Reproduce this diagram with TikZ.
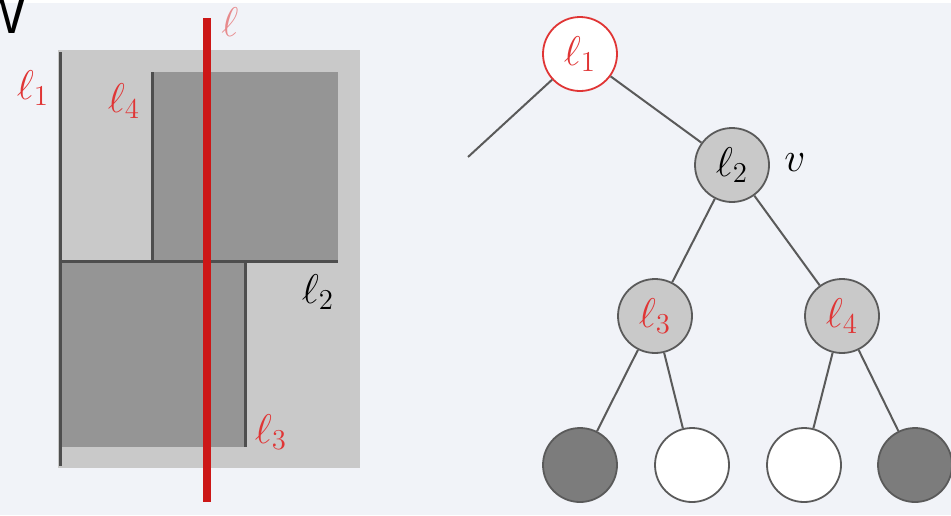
\documentclass[tikz,border=0pt]{standalone}
\usepackage{fontspec}
\newfontfamily\titlefont{Liberation Sans}
\begin{document}
\begin{tikzpicture}[x=0.5pt,y=-0.5pt,
  lbl/.style={inner sep=0pt, font=\fontsize{22}{26}\selectfont},
  redlbl/.style={lbl, text=labred},
  tnode/.style={circle, minimum size=37pt, inner sep=0pt, draw=edgegrey, line width=0.9pt,
                font=\fontsize{22}{26}\selectfont},
  inner/.style={tnode, fill=lightfill},
  darkleaf/.style={tnode, fill=darkfill},
  whiteleaf/.style={tnode, fill=white},
  edge/.style={draw=edgegrey, line width=1pt},
  splitline/.style={draw=splitgrey, line width=1.5pt},
  headtext/.style={inner sep=0pt, font=\titlefont\fontsize{26}{30}\selectfont\bfseries}
]
\definecolor{bg}{HTML}{F1F3F8}
\definecolor{lightfill}{HTML}{C9C9C9}
\definecolor{midfill}{HTML}{959595}
\definecolor{darkfill}{HTML}{7C7C7C}
\definecolor{edgegrey}{HTML}{5A5A5A}
\definecolor{splitgrey}{HTML}{4E4E4E}
\definecolor{labred}{HTML}{E03535}
\definecolor{cutred}{HTML}{CC1717}

% page
\fill[bg] (0,0) rectangle (951,515);
\useasboundingbox (0,0) rectangle (951,515);
\fill[white] (0,0) rectangle (951,3);

% heading above the figure, mostly outside the page
\node[headtext, anchor=base west, font=\titlefont\fontsize{26}{30}\selectfont] (headW) at (-24,33) {W};
\node[headtext, anchor=base west] (head) at (160,-12) {pk-tree (kd-tree)\ \ Query\ \ S};

% kd partition of the plane
\fill[lightfill] (58,50) rectangle (360,468);
\fill[midfill] (152,72) rectangle (338,261);
\fill[midfill] (60,261) rectangle (245,447);
\draw[splitline] (60,52) -- (60,466);
\draw[splitline] (60,261) -- (338,261);
\draw[splitline] (152,72) -- (152,261);
\draw[splitline] (245,261) -- (245,447);

% query line
\draw[cutred, line width=3.6pt] (207,18) -- (207,502);

% split labels
\node[redlbl, text opacity=0.55] (lq) at (230,22) {$\ell$};
\node[redlbl] (la) at (33,88) {$\ell_1$};
\node[redlbl] (lb) at (124,101) {$\ell_4$};
\node[lbl] (lc) at (318,292) {$\ell_2$};
\node[redlbl] (ld) at (271,432) {$\ell_3$};

% kd tree
\node[tnode, draw=labred, fill=white, text=labred] (n1) at (580,54) {$\ell_1$};
\node[inner] (n2) at (732,165) {$\ell_2$};
\node[inner, text=labred] (n3) at (655,316) {$\ell_3$};
\node[inner, text=labred] (n4) at (842,316) {$\ell_4$};
\node[darkleaf] (m1) at (580,465) {};
\node[whiteleaf] (m2) at (692,465) {};
\node[whiteleaf] (m3) at (804,465) {};
\node[darkleaf] (m4) at (915,465) {};
\node[lbl, anchor=west] (vv) at (784,163) {$v$};

\coordinate (stub) at (468,157);
\draw[edge] (n1) -- (stub);
\draw[edge] (n1) -- (n2);
\draw[edge] (n2) -- (n3);
\draw[edge] (n2) -- (n4);
\draw[edge] (n3) -- (m1);
\draw[edge] (n3) -- (m2);
\draw[edge] (n4) -- (m3);
\draw[edge] (n4) -- (m4);
\end{tikzpicture}
\end{document}
